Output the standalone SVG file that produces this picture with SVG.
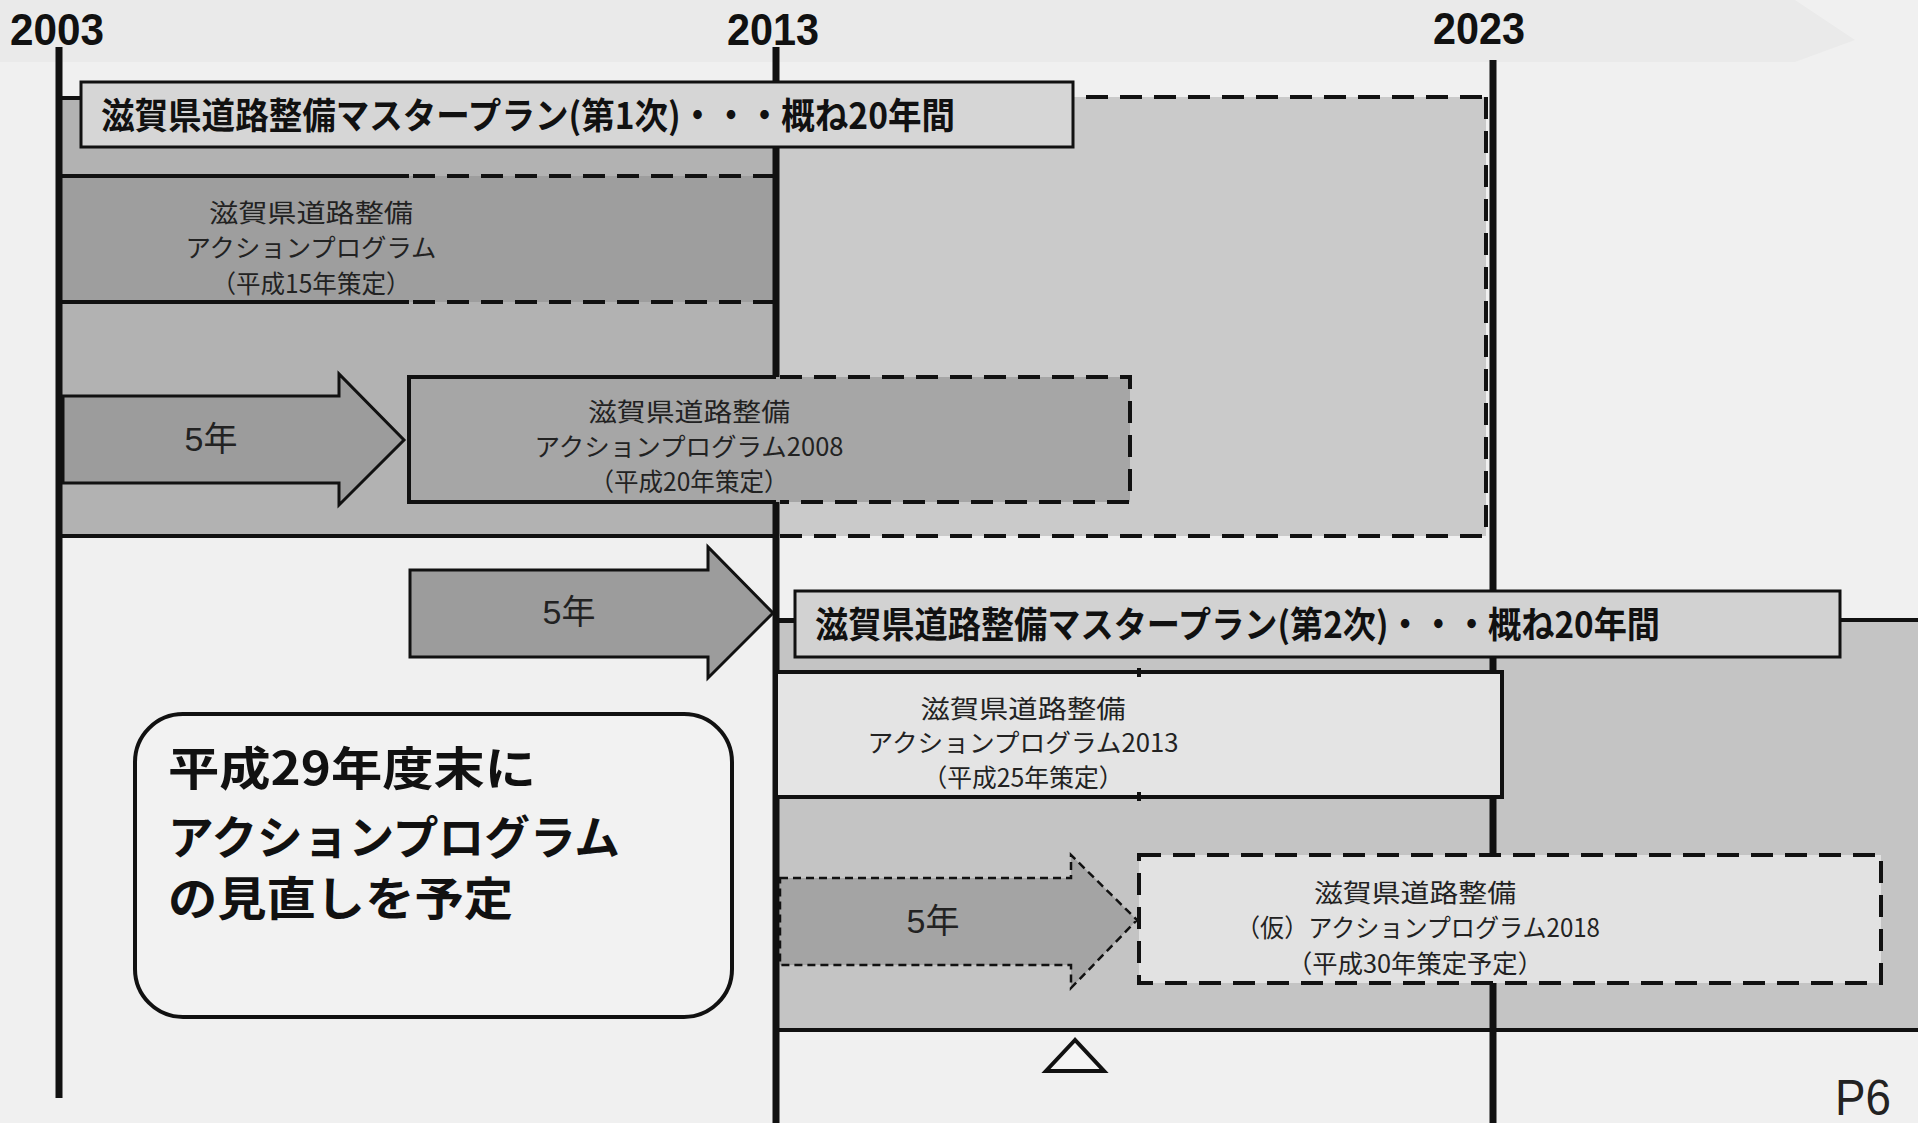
<svg xmlns="http://www.w3.org/2000/svg" width="1918" height="1123" viewBox="0 0 1918 1123">
<style>
.year{font-family:"Liberation Sans","Noto Sans CJK JP",sans-serif;font-weight:bold;font-size:45px;fill:#111}
.big{font-family:"Noto Sans CJK JP",sans-serif;font-weight:bold;font-size:36px;fill:#111}
.ap{font-family:"Noto Sans CJK JP",sans-serif;font-size:25px;fill:#222;text-anchor:middle;dominant-baseline:central}
.yr5{font-family:"Liberation Sans","Noto Sans CJK JP",sans-serif;font-size:34px;fill:#222;text-anchor:middle;dominant-baseline:central}
.note{font-family:"Noto Sans CJK JP",sans-serif;font-weight:bold;font-size:46px;fill:#111;dominant-baseline:central}
.tl{stroke:#111;stroke-width:7;fill:none}
.solid{stroke:#111;stroke-width:4;fill:none}
.dash{stroke:#111;stroke-width:4;fill:none;stroke-dasharray:22 12}
.box{stroke:#111;stroke-width:3}
</style>
<rect x="0" y="0" width="1918" height="1123" fill="#f0f0f0"/>
<polygon points="0,0 1795,0 1855,40 1795,62 0,62" fill="#eaeaea"/>

<!-- regions -->
<g id="mp1-region">
  <rect x="59" y="97" width="717" height="439" fill="#b2b2b2"/>
  <rect x="776" y="97" width="710" height="439" fill="#cacaca"/>
  <line class="solid" x1="59" y1="98" x2="776" y2="98"/>
  <line class="dash" x1="780" y1="97" x2="1486" y2="97"/>
  <line class="dash" x1="1486" y1="97" x2="1486" y2="536"/>
  <line class="solid" x1="59" y1="536" x2="776" y2="536"/>
  <line class="dash" x1="780" y1="536" x2="1486" y2="536"/>
</g>
<g id="mp2-region">
  <rect x="776" y="620" width="1142" height="410" fill="#c4c4c4"/>
  <line class="solid" x1="776" y1="620" x2="1918" y2="620"/>
  <line class="solid" x1="776" y1="1030" x2="1918" y2="1030"/>
</g>

<g id="ap2003">
  <rect x="59" y="176" width="717" height="126" fill="#9e9e9e"/>
  <line class="solid" x1="59" y1="176" x2="409" y2="176"/>
  <line class="dash" x1="413" y1="176" x2="776" y2="176"/>
  <line class="solid" x1="59" y1="302" x2="409" y2="302"/>
  <line class="dash" x1="413" y1="302" x2="776" y2="302"/>
  <text class="ap" x="311" y="211" textLength="204" lengthAdjust="spacingAndGlyphs">滋賀県道路整備</text>
  <text class="ap" x="311" y="246" textLength="251" lengthAdjust="spacingAndGlyphs">アクションプログラム</text>
  <text class="ap" x="311" y="282" textLength="199" lengthAdjust="spacingAndGlyphs">（平成15年策定）</text>
</g>

<!-- timeline (connectors) -->
<g id="connectors">
  <line class="tl" x1="59" y1="47" x2="59" y2="1098"/>
  <line class="tl" x1="776" y1="47" x2="776" y2="1123"/>
  <line class="tl" x1="1493" y1="60" x2="1493" y2="1123"/>
</g>

<g id="years">
  <text class="year" x="10" y="45" textLength="94" lengthAdjust="spacingAndGlyphs">2003</text>
  <text class="year" x="727" y="45" textLength="92" lengthAdjust="spacingAndGlyphs">2013</text>
  <text class="year" x="1433" y="44" textLength="92" lengthAdjust="spacingAndGlyphs">2023</text>
</g>

<g id="mp1">
  <rect class="box" x="81" y="82" width="992" height="65" fill="#d6d6d6"/>
  <text class="big" x="101" y="113" dominant-baseline="central" textLength="854" lengthAdjust="spacingAndGlyphs">滋賀県道路整備マスタープラン(第1次)・・・概ね20年間</text>
</g>

<g id="arrow1">
  <polygon points="63,396 339,396 339,374 404,440 339,505 339,483 63,483" fill="#9c9c9c" stroke="#111" stroke-width="3"/>
  <text class="yr5" x="211" y="439">5年</text>
</g>

<g id="ap2008">
  <rect x="409" y="377" width="721" height="125" fill="#a6a6a6"/>
  <polyline class="solid" points="776,377 409,377 409,502 776,502"/>
  <polyline class="dash" points="780,377 1130,377 1130,502 780,502"/>
  <text class="ap" x="689" y="410" textLength="202" lengthAdjust="spacingAndGlyphs">滋賀県道路整備</text>
  <text class="ap" x="689" y="445" textLength="309" lengthAdjust="spacingAndGlyphs">アクションプログラム2008</text>
  <text class="ap" x="689" y="480" textLength="199" lengthAdjust="spacingAndGlyphs">（平成20年策定）</text>
</g>

<g id="arrow2">
  <polygon points="410,570 708,570 708,547 773,613 708,678 708,657 410,657" fill="#9c9c9c" stroke="#111" stroke-width="3"/>
  <text class="yr5" x="569" y="612">5年</text>
</g>

<g id="mp2">
  <line class="solid" x1="776" y1="621" x2="795" y2="621"/>
  <rect class="box" x="795" y="591" width="1045" height="66" fill="#d2d2d2"/>
  <text class="big" x="815" y="622" dominant-baseline="central" textLength="845" lengthAdjust="spacingAndGlyphs">滋賀県道路整備マスタープラン(第2次)・・・概ね20年間</text>
</g>

<g id="ap2013">
  <rect x="778" y="672" width="724" height="125" fill="#e4e4e4"/>
  <polyline class="solid" points="776,672 1502,672 1502,797 776,797"/>
  <line class="solid" x1="1139" y1="668" x2="1139" y2="677"/>
  <line class="solid" x1="1139" y1="792" x2="1139" y2="801"/>
  <text class="ap" x="1023" y="707" textLength="205" lengthAdjust="spacingAndGlyphs">滋賀県道路整備</text>
  <text class="ap" x="1023" y="741" textLength="311" lengthAdjust="spacingAndGlyphs">アクションプログラム2013</text>
  <text class="ap" x="1023" y="776" textLength="201" lengthAdjust="spacingAndGlyphs">（平成25年策定）</text>
</g>

<g id="arrow3">
  <polygon points="780,878 1071,878 1071,855 1137,920 1071,988 1071,965 780,965" fill="#a4a4a4" stroke="#111" stroke-width="2.5" stroke-dasharray="8 5"/>
  <text class="yr5" x="933" y="921">5年</text>
</g>

<g id="ap2018">
  <rect x="1139" y="855" width="742" height="128" fill="#e2e2e2" stroke="#111" stroke-width="4" stroke-dasharray="22 12"/>
  <text class="ap" x="1415" y="891" textLength="202" lengthAdjust="spacingAndGlyphs">滋賀県道路整備</text>
  <text class="ap" x="1418" y="926" textLength="364" lengthAdjust="spacingAndGlyphs">（仮）アクションプログラム2018</text>
  <text class="ap" x="1415" y="962" textLength="256" lengthAdjust="spacingAndGlyphs">（平成30年策定予定）</text>
</g>

<g id="marker-triangle">
  <polygon points="1075,1040 1046,1071 1104,1071" fill="#f4f4f4" stroke="#111" stroke-width="4"/>
</g>

<g id="note">
  <rect x="135" y="714" width="597" height="303" rx="48" ry="48" fill="#f2f2f2" stroke="#111" stroke-width="4"/>
  <text class="note" x="168" y="765" textLength="368" lengthAdjust="spacingAndGlyphs">平成29年度末に</text>
  <text class="note" x="168" y="834" textLength="452" lengthAdjust="spacingAndGlyphs">アクションプログラム</text>
  <text class="note" x="168" y="895" textLength="345" lengthAdjust="spacingAndGlyphs">の見直しを予定</text>
</g>

<text id="page" x="1835" y="1115" font-family="Liberation Sans, sans-serif" font-size="50" fill="#222" textLength="56" lengthAdjust="spacingAndGlyphs">P6</text>
</svg>
